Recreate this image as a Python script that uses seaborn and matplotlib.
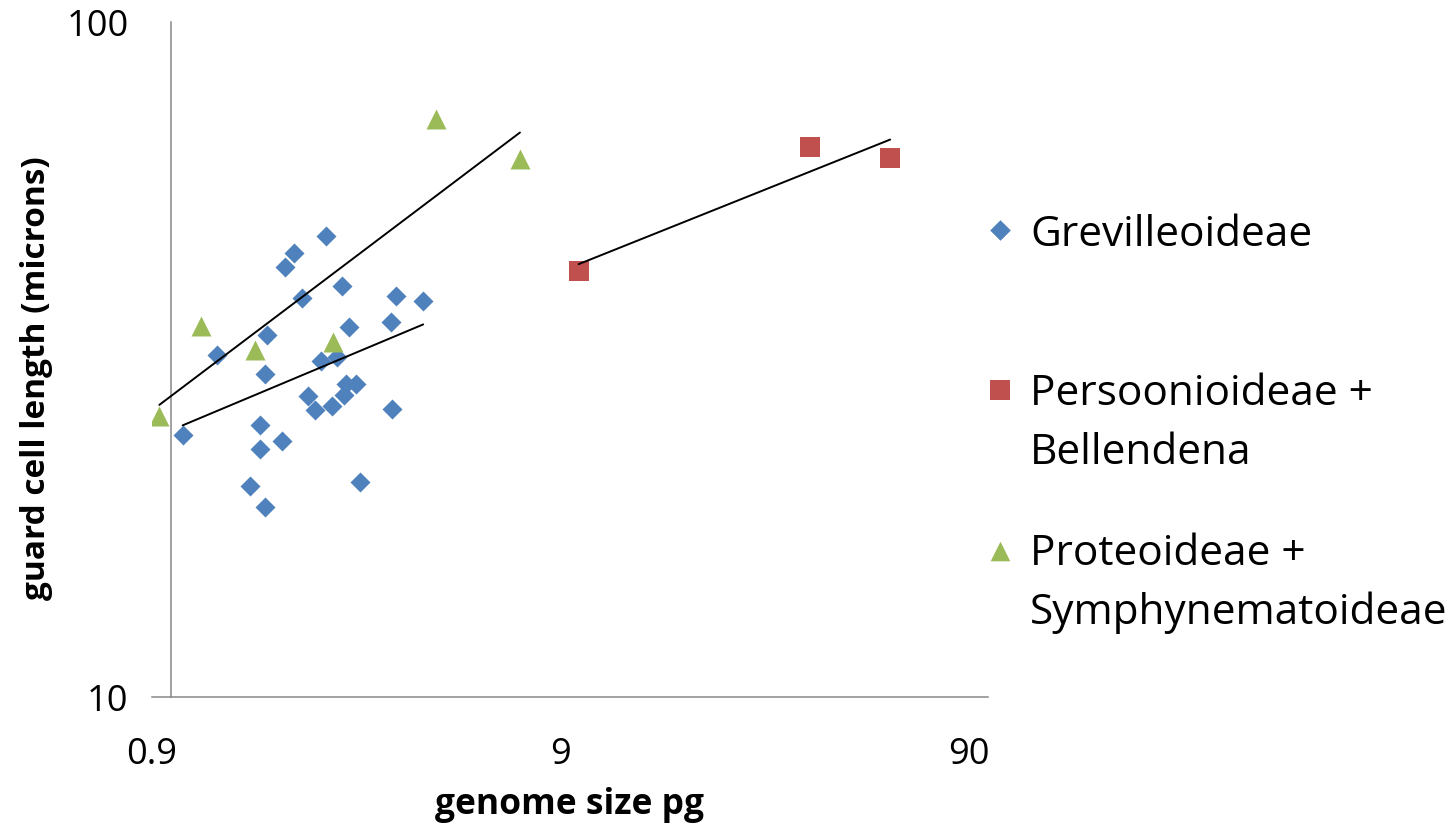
import numpy as np
import pandas as pd
import matplotlib
matplotlib.use("Agg")
import matplotlib.pyplot as plt
import seaborn as sns
from matplotlib.ticker import FixedLocator, FixedFormatter, NullLocator

# ---------------- data ----------------
grev_genome = [2.40, 2.00, 1.90, 2.63, 2.10, 3.56, 4.15, 3.46, 2.73, 1.72,
               1.30, 2.33, 2.56, 1.70, 2.68, 2.84, 2.17, 2.65, 2.48, 2.25,
               3.48, 1.65, 1.07, 1.87, 1.65, 2.90, 1.56, 1.70]
grev_guard = [48.1, 45.4, 43.3, 40.6, 39.0, 39.2, 38.6, 35.9, 35.3, 34.4,
              32.1, 31.4, 31.9, 30.1, 29.1, 29.1, 27.9, 28.0, 27.0, 26.6,
              26.7, 25.3, 24.4, 23.9, 23.3, 20.8, 20.5, 19.1]

pers_genome = [9.97, 36.7, 57.7]
pers_guard = [42.8, 65.3, 62.8]

prot_genome = [0.938, 1.186, 1.61, 2.49, 4.47, 7.16]
prot_guard = [26.1, 35.4, 32.6, 33.5, 71.7, 62.6]

group_names = ["Grevilleoideae", "Persoonioideae +\nBellendena",
               "Proteoideae +\nSymphynematoideae"]
x_ticks = [0.9, 9, 90]
x_tick_labels = ["0.9", "9", "90"]
y_ticks = [10, 100]
y_tick_labels = ["10", "100"]
x_label = "genome size pg"
y_label = "guard cell length (microns)"

# ---------------- styling ----------------
sns.set_style("white")
plt.rcParams["font.family"] = ["Open Sans", "DejaVu Sans"]
plt.rcParams["text.color"] = "black"
plt.rcParams["axes.labelcolor"] = "black"

colors = ["#4F81BD", "#C0504D", "#9BBB59"]
markers = ["D", "s", "^"]
sizes = [104, 207, 207]
axis_grey = "#878787"

df = pd.concat([
    pd.DataFrame({"genome": grev_genome, "guard": grev_guard, "group": group_names[0]}),
    pd.DataFrame({"genome": pers_genome, "guard": pers_guard, "group": group_names[1]}),
    pd.DataFrame({"genome": prot_genome, "guard": prot_guard, "group": group_names[2]}),
], ignore_index=True)

W, H = 1451, 828
fig = plt.figure(figsize=(W / 100, H / 100), dpi=100)
ax = fig.add_axes([152 / W, (H - 698) / H, (987.7 - 152) / W, (698 - 22.7) / H])
ax.set_xscale("log")
ax.set_yscale("log")

for i, g in enumerate(group_names):
    sub = df[df["group"] == g]
    sns.scatterplot(data=sub, x="genome", y="guard", marker=markers[i],
                    s=sizes[i], color=colors[i], linewidth=0, ax=ax,
                    legend=False, zorder=3 + i)

# power-law trend lines (linear fit in log-log space)
for i, g in enumerate(group_names):
    sub = df[df["group"] == g]
    lx = np.log10(sub["genome"].values)
    ly = np.log10(sub["guard"].values)
    k, b = np.polyfit(lx, ly, 1)
    xs = np.array([lx.min(), lx.max()])
    ax.plot(10 ** xs, 10 ** (k * xs + b), color="black", lw=1.4, zorder=10)

ax.set_xlim(0.9, 100)
ax.set_ylim(10, 100)

for s in ["top", "right"]:
    ax.spines[s].set_visible(False)
ax.spines["left"].set_position(("data", 1.0))
for s in ["left", "bottom"]:
    ax.spines[s].set_color(axis_grey)
    ax.spines[s].set_linewidth(1.1)

ax.xaxis.set_major_locator(FixedLocator(x_ticks))
ax.xaxis.set_major_formatter(FixedFormatter(x_tick_labels))
ax.yaxis.set_major_locator(FixedLocator(y_ticks))
ax.yaxis.set_major_formatter(FixedFormatter(y_tick_labels))
ax.xaxis.set_minor_locator(NullLocator())
ax.yaxis.set_minor_locator(NullLocator())
ax.tick_params(axis="both", which="major", direction="out", length=9.4,
               width=1.1, color=axis_grey, labelsize=26, labelcolor="black")
ax.tick_params(axis="x", pad=18.5)
ax.tick_params(axis="y", pad=21)

ax.set_xlabel(x_label, fontsize=25.5, fontweight="bold", color="black")
ax.set_ylabel(y_label, fontsize=24, fontweight="bold", color="black")
ax.xaxis.set_label_coords(0.5, -(787 - 698) / (698 - 22.7))
ax.yaxis.set_label_coords((53 - 152) / (987.7 - 152), (698 - 378) / (698 - 22.7))

# ---------------- legend (drawn in figure pixel space) ----------------
lax = fig.add_axes([0, 0, 1, 1], facecolor="none")
lax.set_xlim(0, W)
lax.set_ylim(H, 0)
lax.axis("off")
marker_y = [230.7, 390.7, 551.7]
baselines = [[246], [405, 464.3], [565, 624.3]]
leg_sizes = [110, 200, 200]
for i, g in enumerate(group_names):
    lax.scatter([999.5], [marker_y[i]], marker=markers[i], s=leg_sizes[i],
                color=colors[i], linewidth=0)
    for line, by in zip(g.split("\n"), baselines[i]):
        lax.text(1030, by, line, fontsize=30.5, va="baseline", ha="left",
                 color="black")

fig.savefig("out.png", dpi=100)
